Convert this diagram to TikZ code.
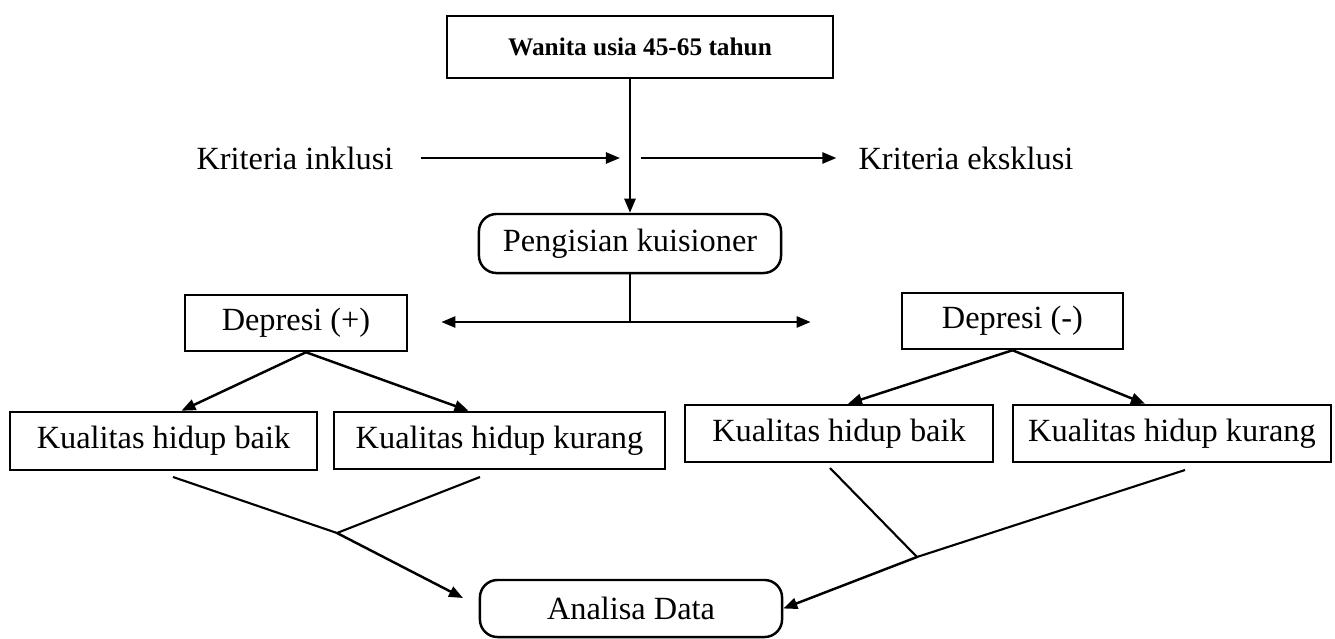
\documentclass[tikz,border=0pt]{standalone}
\usepackage{fontspec}
\setmainfont{Liberation Serif}
\usepackage{tikz}
\usetikzlibrary{arrows.meta, positioning, calc}

\tikzset{
  box/.style={draw, line width=0.7pt, inner sep=0pt, font=\fontsize{9.2}{11}\selectfont},
  rbox/.style={box, rounded corners=5pt},
  lbl/.style={inner sep=0pt, font=\fontsize{9.2}{11}\selectfont},
  arr/.style={line width=0.7pt, -{Triangle[length=0.14cm,width=0.11cm]}},
  ln/.style={line width=0.6pt}
}

\begin{document}
\begin{tikzpicture}[x=0.01cm, y=-0.01cm]
  \useasboundingbox (0,0) rectangle (1335,639);

  % boxes, top to bottom
  \node[box, minimum width=3.86cm, minimum height=0.62cm, font=\fontsize{7.2}{9}\selectfont\bfseries] (wanita) at (640,47) {Wanita usia 45-65 tahun};
  \node[lbl] (inklusi) at (295,158) {Kriteria inklusi};
  \node[lbl] (eksklusi) at (966,158) {Kriteria eksklusi};
  \node[rbox, minimum width=3.02cm, minimum height=0.59cm] (pengisian) at (630,243.5) {Pengisian kuisioner};

  \node[box, minimum width=2.22cm, minimum height=0.56cm] (depPlus) at (296,323) {Depresi (+)};
  \node[box, minimum width=2.21cm, minimum height=0.56cm] (depMin) at (1012.5,321) {Depresi (-)};

  \node[box, minimum width=3.07cm, minimum height=0.58cm] (baikL) at (163.5,441) {Kualitas hidup baik};
  \node[box, minimum width=3.31cm, minimum height=0.57cm] (kurangL) at (499.5,440.5) {Kualitas hidup kurang};
  \node[box, minimum width=3.08cm, minimum height=0.57cm] (baikR) at (839,433.5) {Kualitas hidup baik};
  \node[box, minimum width=3.18cm, minimum height=0.57cm] (kurangR) at (1172,433.5) {Kualitas hidup kurang};

  \node[rbox, minimum width=3.02cm, minimum height=0.57cm] (analisa) at (631,608.5) {Analisa Data};

  % junction points
  \coordinate (kIn) at (620,158);
  \coordinate (kOut) at (641,158);
  \coordinate (split) at (630,322);
  \coordinate (lA) at (173,477);
  \coordinate (lB) at (480,477);
  \coordinate (jL) at (337,533);
  \coordinate (tipL) at (463,598);
  \coordinate (rA) at (830,468);
  \coordinate (rB) at (1185,470);
  \coordinate (jR) at (917,557);

  % connectors
  \draw[arr] (wanita.south -| pengisian.north) -- (pengisian.north);
  \draw[arr, shorten <=0.27cm] (inklusi) -- (kIn);
  \draw[arr, shorten >=0.215cm] (kOut) -- (eksklusi);
  \draw[ln] (pengisian) -- (split);
  \draw[arr, shorten >=0.33cm] (split) -- (split -| depPlus.east);
  \draw[arr, shorten >=0.9cm] (split) -- (split -| depMin.west);

  \draw[arr] ($(depPlus.south)+(10,0)$) -- ($(baikL.north)+(18,0)$);
  \draw[arr] ($(depPlus.south)+(10,0)$) -- ($(kurangL.north)+(-31,0)$);
  \draw[arr] (depMin.south) -- ($(baikR.north)+(9,0)$);
  \draw[arr] (depMin.south) -- ($(kurangR.north)+(-27,0)$);

  \draw[ln] (lA) -- (jL);
  \draw[ln] (lB) -- (jL);
  \draw[arr] (jL) -- (tipL);
  \draw[ln] (rA) -- (jR);
  \draw[ln] (rB) -- (jR);
  \draw[arr] (jR) -- (analisa.east);
\end{tikzpicture}
\end{document}
